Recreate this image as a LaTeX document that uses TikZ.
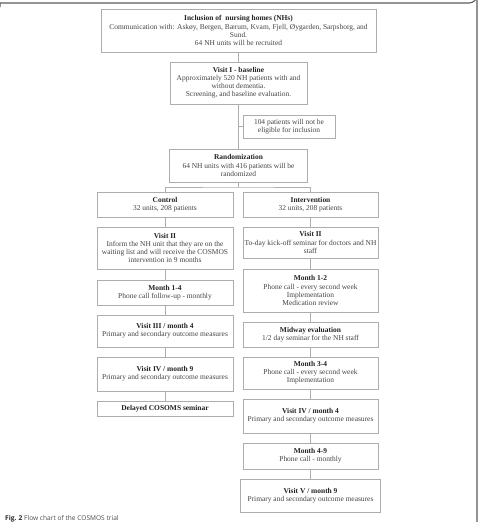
\documentclass[tikz,border=0pt]{standalone}
\usepackage{fontspec}
\setmainfont{Liberation Serif}
\newfontfamily\capfont{Open Sans}
\definecolor{txt}{HTML}{444444}
\definecolor{ttl}{HTML}{222222}
\definecolor{bord}{HTML}{ADADAD}
\definecolor{frm}{HTML}{5A5A5A}
\begin{document}
\begin{tikzpicture}[x=1pt,y=-1pt,
  bx/.style={draw=bord,line width=0.7pt,fill=white,inner sep=0pt,align=center,
    font=\fontsize{7.45}{8.1}\selectfont,text=txt},
  cn/.style={draw=bord,line width=0.7pt}]
\useasboundingbox (0,0) rectangle (481,522);
% frame
\draw[frm,line width=1.1pt] (0,7) -- (0,3) -- (469,3) arc[start angle=90,end angle=0,radius=8] -- (477,522);
% nodes
\node[bx,minimum width=275,minimum height=43] (b1) at (238.5,30.5)
  {\textbf{\color{ttl}Inclusion of\ \ nursing homes (NHs)}\\Communication with: Askøy, Bergen, Bærum, Kvam, Fjell, Øygarden, Sarpsborg, and\\Sund.\\64 NH units will be recruited};
\node[bx,minimum width=137,minimum height=42] (v1) at (238.5,83)
  {\textbf{\color{ttl}Visit I - baseline}\\Approximately 520 NH patients with and\\without dementia.\\Screening, and baseline evaluation.};
\node[bx,minimum width=92,minimum height=23] (ex) at (289,126.5)
  {104 patients will not be\\eligible for inclusion};
\node[bx,minimum width=138,minimum height=33] (rnd) at (238.5,165.5)
  {\textbf{\color{ttl}Randomization}\\64 NH units with 416 patients will be\\randomized};
\node[bx,minimum width=136,minimum height=25] (ctl) at (165,204.5)
  {\textbf{\color{ttl}Control}\\32 units, 208 patients};
\node[bx,minimum width=135,minimum height=25] (itv) at (310.5,204.5)
  {\textbf{\color{ttl}Intervention}\\32 units, 208 patients};
\node[bx,minimum width=136,minimum height=42] (v2c) at (165,248)
  {\textbf{\color{ttl}Visit II}\\Inform the NH unit that they are on the\\waiting list and will receive the COSMOS\\intervention in 9 months};
\node[bx,minimum width=135,minimum height=31] (v2i) at (310.5,242.5)
  {\textbf{\color{ttl}Visit II}\\To-day kick-off seminar for doctors and NH\\staff};
\node[bx,minimum width=136,minimum height=25] (m14) at (165,292.5)
  {\textbf{\color{ttl}Month 1-4}\\Phone call follow-up - monthly};
\node[bx,minimum width=136,minimum height=32] (v3) at (165,331)
  {\textbf{\color{ttl}Visit III / month 4}\\Primary and secondary outcome measures};
\node[bx,minimum width=136,minimum height=34] (v4c) at (165,374)
  {\textbf{\color{ttl}Visit IV / month 9}\\Primary and secondary outcome measures};
\node[bx,minimum width=136,minimum height=15] (del) at (165,408.5)
  {\textbf{\color{ttl}Delayed COSOMS seminar}};
\node[bx,minimum width=135,minimum height=43] (m12) at (310.5,290.5)
  {\textbf{\color{ttl}Month 1-2}\\Phone call - every second week\\Implementation\\Medication review};
\node[bx,minimum width=135,minimum height=25] (mid) at (310.5,334.5)
  {\textbf{\color{ttl}Midway evaluation}\\1/2 day seminar for the NH staff};
\node[bx,minimum width=135,minimum height=32] (m34) at (310.5,373)
  {\textbf{\color{ttl}Month 3-4}\\Phone call - every second week\\Implementation};
\node[bx,minimum width=135,minimum height=34] (v4i) at (310.5,416)
  {\textbf{\color{ttl}Visit IV / month 4}\\Primary and secondary outcome measures};
\node[bx,minimum width=135,minimum height=26] (m49) at (310.5,456)
  {\textbf{\color{ttl}Month 4-9}\\Phone call - monthly};
\node[bx,minimum width=140,minimum height=33] (v5) at (310.5,495.5)
  {\textbf{\color{ttl}Visit V / month 9}\\Primary and secondary outcome measures};
% connectors
\coordinate (sp) at (238.5,187);
\draw[cn] (b1.south) -- (v1.north);
\draw[cn] (v1.south) -- (rnd.north);
\draw[cn] (v1.south |- ex.west) -- (ex.west);
\draw[cn] (rnd.south) -- (sp);
\draw[cn] (ctl.north) |- (sp) -| (itv.north);
\draw[cn] (ctl) -- (v2c);
\draw[cn] (v2c) -- (m14);
\draw[cn] (m14) -- (v3);
\draw[cn] (v3) -- (v4c);
\draw[cn] (v4c) -- (del);
\draw[cn] (itv) -- (v2i);
\draw[cn] (v2i) -- (m12);
\draw[cn] (m12) -- (mid);
\draw[cn] (mid) -- (m34);
\draw[cn] (m34) -- (v4i);
\draw[cn] (v4i) -- (m49);
\draw[cn] (m49) -- (v5);
% caption
\node[anchor=base west,inner sep=0pt,font=\capfont\fontsize{6.6}{7}\selectfont,text=black!70] (cap) at (5,520.5)
  {{\bfseries\color{black!85}Fig. 2} Flow chart of the COSMOS trial};
\end{tikzpicture}
\end{document}
